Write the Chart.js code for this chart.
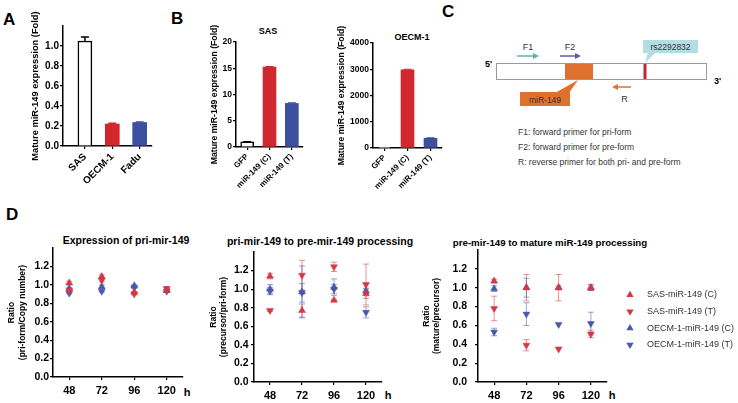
<!DOCTYPE html>
<html>
<head>
<meta charset="utf-8">
<title>miR-149 expression and processing</title>
<script src="https://cdn.jsdelivr.net/npm/chart.js@4.4.1/dist/chart.umd.min.js"></script>
<style>
  html, body { margin: 0; padding: 0; background: #fff; }
  body { width: 738px; height: 403px; position: relative; overflow: hidden; font-family: "Liberation Sans", Arial, sans-serif; }
  .plot { position: absolute; }
  .plot canvas { display: block; }
  .txt { position: absolute; white-space: nowrap; line-height: 1; color: #000; }
  .letter { font-weight: bold; font-size: 17px; }
  .ttl { font-weight: bold; transform: translate(-50%, -50%); }
  #diagram { position: absolute; left: 470px; top: 30px; }
</style>
</head>
<body>

<div class="txt letter" style="left:3px;top:11px">A</div>
<div class="txt letter" style="left:171px;top:10px">B</div>
<div class="txt letter" style="left:442px;top:3px">C</div>
<div class="txt letter" style="left:6px;top:206px">D</div>

<div class="txt ttl" style="left:268px;top:31px;font-size:9px">SAS</div>
<div class="txt ttl" style="left:412px;top:37px;font-size:9px">OECM-1</div>

<div class="txt ttl" style="left:126px;top:240px;font-size:10.5px">Expression of pri-mir-149</div>
<div class="txt ttl" style="left:320px;top:241px;font-size:10.5px">pri-mir-149 to pre-mir-149 processing</div>
<div class="txt ttl" style="left:550px;top:243px;font-size:9.7px">pre-mir-149 to mature miR-149 processing</div>

<div class="txt ttl" style="left:187px;top:392px;font-size:11px">h</div>
<div class="txt ttl" style="left:388px;top:395px;font-size:11px">h</div>
<div class="txt ttl" style="left:612px;top:395px;font-size:11px">h</div>

<div class="plot" style="left:0px;top:0px;width:160px;height:200px"><canvas id="chartA"></canvas></div>
<div class="plot" style="left:170px;top:0px;width:145px;height:200px"><canvas id="chartSAS"></canvas></div>
<div class="plot" style="left:320px;top:0px;width:132px;height:200px"><canvas id="chartOECM"></canvas></div>

<div class="plot" style="left:0px;top:228px;width:195px;height:175px"><canvas id="chartPri"></canvas></div>
<div class="plot" style="left:195px;top:228px;width:200px;height:175px"><canvas id="chartPre"></canvas></div>
<div class="plot" style="left:420px;top:228px;width:318px;height:175px"><canvas id="chartMat"></canvas></div>

<!-- panel C: primer diagram -->
<svg id="diagram" width="268" height="150" font-family="Liberation Sans, Arial, sans-serif">
  <g transform="translate(-470,-30)">
    <rect x="496.5" y="63.5" width="210" height="16" fill="#fff" stroke="#9a9a9a" stroke-width="1"/>
    <rect x="565" y="64" width="28" height="15" fill="#e0702e"/>
    <rect x="643.5" y="64" width="3" height="15" fill="#c4262e"/>
    <text x="485" y="67" font-size="9" font-weight="bold">5'</text>
    <text x="714" y="84" font-size="9" font-weight="bold">3'</text>

    <line x1="517" y1="56" x2="534" y2="56" stroke="#5fb3a6" stroke-width="1.5"/>
    <path d="M533,53 L539,56 L533,59 Z" fill="#5fb3a6"/>
    <text x="528" y="50" text-anchor="middle" font-size="9" fill="#333">F1</text>

    <line x1="560" y1="56" x2="576" y2="56" stroke="#5b5ea6" stroke-width="1.5"/>
    <path d="M575,53 L581,56 L575,59 Z" fill="#5b5ea6"/>
    <text x="570" y="50" text-anchor="middle" font-size="9" fill="#333">F2</text>

    <line x1="617" y1="87" x2="631" y2="87" stroke="#e0702e" stroke-width="1.5"/>
    <path d="M618,84 L612,87 L618,90 Z" fill="#e0702e"/>
    <text x="624.5" y="101.5" text-anchor="middle" font-size="9" fill="#333">R</text>

    <path d="M648,52 L656,52 L645,63 Z" fill="#b4dce3"/>
    <rect x="643" y="40" width="55" height="13" fill="#b4dce3"/>
    <text x="670.5" y="50" text-anchor="middle" font-size="8.5" fill="#333">rs2292832</text>

    <path d="M555,93 L569,93 L578,80 Z" fill="#e0702e"/>
    <rect x="520" y="92" width="50" height="14" fill="#e0702e"/>
    <text x="545" y="102.5" text-anchor="middle" font-size="8.5" fill="#333">miR-149</text>

    <text x="518" y="135" font-size="8.5" fill="#333">F1: forward primer for pri-form</text>
    <text x="518" y="150" font-size="8.5" fill="#333">F2: forward primer for pre-form</text>
    <text x="518" y="165" font-size="8.5" fill="#333">R: reverse primer for both pri- and pre-form</text>
  </g>
</svg>

<script>
// ---- panel A: mature miR-149 in cell lines
const cellLinesA = ['SAS', 'OECM-1', 'Fadu'];
const expressionA = [1.05, 0.22, 0.235];
const errorA = [0.04, 0.008, 0.004];

// ---- panel B: transfected constructs
const constructsB = ['GFP', 'miR-149 (C)', 'miR-149 (T)'];
const sasFold = [1, 15.2, 8.3];
const sasErr = [0.05, 0.12, 0.1];
const oecmFold = [1, 2980, 370];
const oecmErr = [0, 20, 18];

// ---- panel D: time course
const hours = ['48', '72', '96', '120'];
const seriesNames = ['SAS-miR-149 (C)', 'SAS-miR-149 (T)', 'OECM-1-miR-149 (C)', 'OECM-1-miR-149 (T)'];

const priSasC  = [1.02, 1.09, 0.92, 0.94];
const priSasT  = [0.94, 1.05, 0.90, 0.96];
const priOecmC = [0.96, 0.98, 0.99, 0.94];
const priOecmT = [0.91, 0.93, 0.97, 0.93];
const priSasCErr  = [0.02, 0.02, 0.01, 0.02];
const priSasTErr  = [0.01, 0.02, 0.01, 0.02];
const priOecmCErr = [0.01, 0.02, 0.01, 0.01];
const priOecmTErr = [0.01, 0.01, 0.01, 0.01];

const preSasC  = [1.14, 0.77, 0.88, 0.95];
const preSasT  = [0.77, 1.15, 1.24, 1.05];
const preOecmC = [1.00, 0.97, 1.02, 0.98];
const preOecmT = [0.98, 0.96, 1.00, 0.75];
const preSasCErr  = [0.03, 0.07, 0.01, 0.05];
const preSasTErr  = [0.01, 0.16, 0.05, 0.22];
const preOecmCErr = [0.05, 0.28, 0.09, 0.03];
const preOecmTErr = [0.04, 0.10, 0.05, 0.06];

const matSasC  = [1.07, 1.00, 1.00, 1.00];
const matSasT  = [0.78, 0.39, 0.35, 0.51];
const matOecmC = [0.99, 1.00, 1.00, 1.00];
const matOecmT = [0.53, 0.72, 0.61, 0.62];
const matSasCErr  = [0.02, 0.14, 0.14, 0.03];
const matSasTErr  = [0.13, 0.06, 0, 0.04];
const matOecmCErr = [0.03, 0.10, 0.02, 0.03];
const matOecmTErr = [0.04, 0.12, 0, 0.12];

const red = '#d0282e', blue = '#3d4f9f';
const redMark = '#d63743', blueMark = '#4859aa';
const redErr = 'rgba(214,55,67,0.55)', blueErr = 'rgba(72,89,170,0.55)';

Chart.defaults.font.family = '"Liberation Sans", Arial, sans-serif';
Chart.defaults.color = '#000';
Chart.defaults.animation = false;
Chart.defaults.events = [];
Chart.defaults.plugins.legend.display = false;
Chart.defaults.plugins.tooltip.enabled = false;

// error bars, drawn from each dataset's errors array
function drawErrors(chart, opts) {
  const ctx = chart.ctx;
  const yScale = chart.scales.y;
  chart.data.datasets.forEach((ds, i) => {
    if (!ds.errors) return;
    const meta = chart.getDatasetMeta(i);
    meta.data.forEach((el, j) => {
      const err = ds.errors[j];
      if (!err) return;
      const raw = ds.data[j];
      const v = typeof raw === 'object' ? raw.y : raw;
      const x = el.x;
      const yTop = yScale.getPixelForValue(v + err);
      const yBot = yScale.getPixelForValue(opts.oneSided ? v : v - err);
      const cap = opts.cap || 3;
      ctx.save();
      ctx.strokeStyle = Array.isArray(ds.errorColor) ? ds.errorColor[j] : ds.errorColor;
      ctx.lineWidth = opts.width || 1;
      ctx.beginPath();
      ctx.moveTo(x, yTop);
      ctx.lineTo(x, yBot);
      ctx.moveTo(x - cap, yTop);
      ctx.lineTo(x + cap, yTop);
      if (!opts.oneSided) {
        ctx.moveTo(x - cap, yBot);
        ctx.lineTo(x + cap, yBot);
      }
      ctx.stroke();
      ctx.restore();
    });
  });
}

Chart.register({
  id: 'errorBars',
  beforeDatasetsDraw(chart, args, opts) { if (opts.behind) drawErrors(chart, opts); },
  afterDatasetsDraw(chart, args, opts) { if (opts.oneSided) drawErrors(chart, opts); }
});

// legend at the right of the last chart
Chart.register({
  id: 'sideLegend',
  afterDraw(chart, args, opts) {
    if (!opts.show) return;
    const ctx = chart.ctx;
    const a = chart.chartArea;
    chart.data.datasets.forEach((ds, i) => {
      const y = a.top + opts.dy + i * opts.gap;
      const x = a.right + opts.dx;
      const r = 4.2;
      const s = ds.pointRotation ? -1 : 1;
      ctx.save();
      ctx.fillStyle = ds.pointBackgroundColor;
      ctx.beginPath();
      ctx.moveTo(x, y - s * r);
      ctx.lineTo(x + r * 0.866, y + s * r * 0.5);
      ctx.lineTo(x - r * 0.866, y + s * r * 0.5);
      ctx.closePath();
      ctx.fill();
      ctx.fillStyle = '#333';
      ctx.font = '9px "Liberation Sans", Arial, sans-serif';
      ctx.textBaseline = 'middle';
      ctx.fillText(ds.label, a.right + opts.tx, y);
      ctx.restore();
    });
  }
});

function yAxis(o) {
  return {
    min: 0,
    max: o.max,
    border: { color: '#000', width: 1.5 },
    grid: {
      drawOnChartArea: false, tickLength: 3, lineWidth: 1.2, color: '#000',
      tickColor: c => (c.tick && c.tick.value > o.top + 1e-6 ? 'rgba(0,0,0,0)' : '#000')
    },
    ticks: {
      stepSize: o.step, padding: o.tpad === undefined ? 1 : o.tpad,
      font: { size: o.tickSize, weight: 'bold' },
      callback: v => (v > o.top + 1e-6 ? '' : o.fmt(v))
    },
    title: {
      display: true, text: o.title, padding: 0,
      font: { size: o.titleSize, weight: 'bold', lineHeight: o.lh || 1.2 }
    },
    afterFit: s => { s.width = o.width; }
  };
}

function xCategory(o) {
  return {
    offset: true,
    border: { color: '#000', width: 1.5 },
    grid: { drawOnChartArea: false, offset: false, tickLength: 3, lineWidth: 1.2, color: '#000' },
    ticks: {
      padding: o.pad, autoSkip: false,
      minRotation: o.rot, maxRotation: o.rot,
      font: { size: o.size, weight: 'bold' }
    },
    afterFit: s => { s.height = o.height; }
  };
}

// ---- A
new Chart(document.getElementById('chartA'), {
  type: 'bar',
  data: {
    datasets: [{
      data: cellLinesA.map((c, i) => ({ x: i, y: expressionA[i] })),
      backgroundColor: ['#fff', red, blue],
      borderColor: ['#000', red, blue],
      borderWidth: [1.5, 0, 0],
      barThickness: 14,
      errors: errorA,
      errorColor: ['#000', red, blue]
    }]
  },
  options: {
    responsive: true, maintainAspectRatio: false,
    layout: { padding: { left: 30, top: 26, right: 8, bottom: 0 } },
    scales: {
      x: {
        type: 'linear', min: -0.8, max: 2.45, offset: false,
        border: { color: '#000', width: 1.5 },
        grid: { drawOnChartArea: false, offset: false, tickLength: 3, lineWidth: 1.2, color: '#000' },
        afterBuildTicks: s => { s.ticks = cellLinesA.map((c, i) => ({ value: i })); },
        ticks: {
          callback: v => cellLinesA[v], autoSkip: false,
          minRotation: 45, maxRotation: 45, padding: 2,
          font: { size: 10, weight: 'bold' }
        },
        afterFit: s => { s.height = 54; }
      },
      y: yAxis({ max: 1.2, top: 1.0, step: 0.2, tickSize: 10, fmt: v => v.toFixed(1),
                 title: 'Mature miR-149 expression (Fold)', titleSize: 9.3, width: 33 })
    },
    plugins: { errorBars: { oneSided: true, cap: 4, width: 1.5 } }
  }
});

// ---- B, SAS
new Chart(document.getElementById('chartSAS'), {
  type: 'bar',
  data: {
    labels: constructsB,
    datasets: [{
      data: sasFold,
      backgroundColor: ['#fff', red, blue],
      borderColor: ['#000', red, blue],
      borderWidth: [1.5, 0, 0],
      barThickness: 13,
      errors: sasErr,
      errorColor: ['#000', red, blue]
    }]
  },
  options: {
    responsive: true, maintainAspectRatio: false,
    layout: { padding: { left: 39, top: 42, right: 12, bottom: 0 } },
    scales: {
      x: xCategory({ pad: 2, rot: 45, size: 8, height: 53 }),
      y: yAxis({ max: 20, top: 20, step: 5, tickSize: 8.5, fmt: v => v,
                 title: 'Mature miR-149 expression (Fold)', titleSize: 8.7, width: 27 })
    },
    plugins: { errorBars: { oneSided: true, cap: 4, width: 1.2 } }
  }
});

// ---- B, OECM-1
new Chart(document.getElementById('chartOECM'), {
  type: 'bar',
  data: {
    labels: constructsB,
    datasets: [{
      data: oecmFold,
      backgroundColor: ['#fff', red, blue],
      borderColor: ['#000', red, blue],
      borderWidth: [1.5, 0, 0],
      barThickness: 13,
      errors: oecmErr,
      errorColor: ['#000', red, blue]
    }]
  },
  options: {
    responsive: true, maintainAspectRatio: false,
    layout: { padding: { left: 16, top: 43, right: 10, bottom: 0 } },
    scales: {
      x: xCategory({ pad: 2, rot: 45, size: 8, height: 52 }),
      y: yAxis({ max: 4000, top: 4000, step: 1000, tickSize: 8.5, fmt: v => v,
                 title: 'Mature miR-149 expression (Fold)', titleSize: 8.7, width: 37 })
    },
    plugins: { errorBars: { oneSided: true, cap: 4, width: 1.2 } }
  }
});

// ---- D
function markerSets(values, errors) {
  return seriesNames.map((name, k) => ({
    label: name,
    data: values[k],
    errors: errors[k],
    showLine: false,
    pointStyle: 'triangle',
    pointRotation: k % 2 ? 180 : 0,
    pointRadius: 4,
    pointBorderWidth: 0.5,
    pointBackgroundColor: k < 2 ? redMark : blueMark,
    pointBorderColor: k < 2 ? redMark : blueMark,
    backgroundColor: k < 2 ? redMark : blueMark,
    borderColor: k < 2 ? redMark : blueMark,
    errorColor: k < 2 ? redErr : blueErr
  }));
}

function timeChart(id, values, errors, o) {
  return new Chart(document.getElementById(id), {
    type: 'line',
    data: { labels: hours, datasets: markerSets(values, errors) },
    options: {
      responsive: true, maintainAspectRatio: false,
      layout: { padding: o.pad },
      scales: {
        x: xCategory({ pad: 4.5, rot: 0, size: 11, height: o.xh }),
        y: yAxis({ max: 1.4, top: 1.2, step: 0.2, tickSize: 10.5, fmt: v => v.toFixed(1),
                   title: o.title, titleSize: 8.5, lh: 1.2, width: o.yw, tpad: o.tpad })
      },
      plugins: {
        errorBars: { behind: true, cap: 3, width: 1 },
        sideLegend: o.legend || { show: false }
      }
    }
  });
}

timeChart('chartPri',
  [priSasC, priSasT, priOecmC, priOecmT],
  [priSasCErr, priSasTErr, priOecmCErr, priOecmTErr],
  { pad: { left: 7, top: 20, right: 12, bottom: 0 }, xh: 26, yw: 46, tpad: 1,
    title: ['Ratio', '(pri-form/Copy number)'] });

timeChart('chartPre',
  [preSasC, preSasT, preOecmC, preOecmT],
  [preSasCErr, preSasTErr, preOecmCErr, preOecmTErr],
  { pad: { left: 13.5, top: 24, right: 13, bottom: 0 }, xh: 21, yw: 45.5, tpad: 2.5,
    title: ['Ratio', '(precursor/pri-form)'] });

timeChart('chartMat',
  [matSasC, matSasT, matOecmC, matOecmT],
  [matSasCErr, matSasTErr, matOecmCErr, matOecmTErr],
  { pad: { left: 1.5, top: 22, right: 131, bottom: 0 }, xh: 21, yw: 56.5, tpad: 8,
    title: ['Ratio', '(mature/precursor)'],
    legend: { show: true, dx: 23, tx: 40, dy: 45, gap: 16.6 } });
</script>
</body>
</html>
